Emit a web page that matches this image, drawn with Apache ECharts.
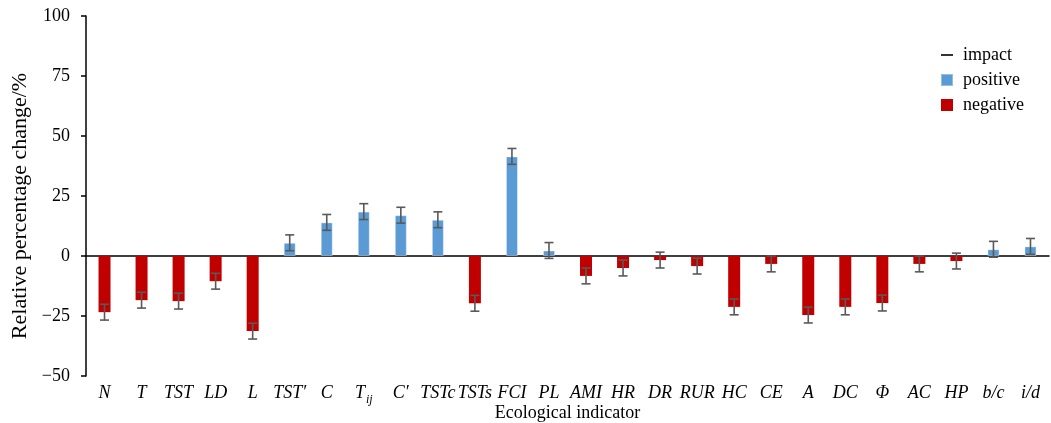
<!DOCTYPE html>
<html>
<head>
<meta charset="utf-8">
<script src="https://cdn.jsdelivr.net/npm/echarts@6/dist/echarts.min.js"></script>
<style>html,body{margin:0;padding:0;background:#fff;}#c{width:1051px;height:423px;}</style>
</head>
<body>
<div id="c"></div>
<script>
const categories = ['N','T','TST','LD','L','TST\u2032','C','Tij','C\u2032','TSTc','TSTs','FCI','PL','AMI','HR','DR','RUR','HC','CE','A','DC','\u03A6','AC','HP','b/c','i/d'];
const values = [-23.4,-18.4,-18.8,-10.5,-31.3,5.5,14.0,18.5,17.0,15.1,-19.7,41.5,2.3,-8.3,-5.0,-1.7,-4.2,-21.2,-3.3,-24.6,-21.2,-19.6,-3.3,-2.1,2.8,4.0];
const errors = [3.3,3.3,3.3,3.3,3.3,3.3,3.3,3.3,3.3,3.3,3.3,3.3,3.3,3.3,3.3,3.3,3.3,3.3,3.3,3.3,3.3,3.3,3.3,3.3,3.3,3.3];
const yTicks = {min:-50, max:100, interval:25};

const FONT = "'Liberation Serif','Times New Roman',serif";
const positive = values.map(v => v > 0 ? v : '-');
const negative = values.map(v => v < 0 ? v : '-');
const errData = values.map((v, i) => [i, v, errors[i]]);

const chart = echarts.init(document.getElementById('c'));
chart.setOption({
  animation: false,
  textStyle: {fontFamily: FONT, color: '#000'},
  grid: {left: 86, right: 2, top: 16, bottom: 47, containLabel: false, outerBoundsMode: 'none'},
  legend: {
    orient: 'vertical', left: 935, top: 41, itemWidth: 12, itemHeight: 12, itemGap: 7,
    textStyle: {fontFamily: FONT, fontSize: 18, color: '#000', padding: [0,0,0,5]},
    data: [
      {name: 'impact', icon: 'path://M0,0H12V1.6H0Z'},
      {name: 'positive', icon: 'rect'},
      {name: 'negative', icon: 'rect'}
    ]
  },
  xAxis: {
    type: 'category', data: categories,
    name: 'Ecological indicator', nameLocation: 'middle', nameGap: 28, nameMoveOverlap: false,
    nameTextStyle: {fontFamily: FONT, fontSize: 18, color: '#000'},
    axisLine: {onZero: true, lineStyle: {color: '#000', width: 1.5}},
    axisTick: {alignWithLabel: true, inside: true, length: 4, lineStyle: {color: '#000', width: 1.5}},
    axisLabel: {
      interval: 0, margin: 8, color: '#000', fontFamily: FONT, fontSize: 18, fontStyle: 'italic',
      formatter: v => v === 'Tij' ? '{bt|T}{s|ij}' : '{b|' + v + '}',
      rich: {
        b: {fontFamily: FONT, fontSize: 18, fontStyle: 'italic', color: '#000'},
        bt: {fontFamily: FONT, fontSize: 18, fontStyle: 'italic', color: '#000', padding: [0,0,4,0]},
        s: {fontFamily: FONT, fontSize: 12, fontStyle: 'italic', color: '#000', padding: [10,0,0,1]}
      }
    },
    splitLine: {show: false}
  },
  yAxis: {
    type: 'value', min: yTicks.min, max: yTicks.max, interval: yTicks.interval,
    name: 'Relative percentage change/%', nameLocation: 'middle', nameGap: 49,
    nameTextStyle: {fontFamily: FONT, fontSize: 22, color: '#000', padding: [0,20,0,0]},
    axisLine: {show: true, lineStyle: {color: '#000', width: 1.5}},
    axisTick: {show: true, inside: false, length: 5, lineStyle: {color: '#000', width: 1.5}},
    axisLabel: {margin: 16, color: '#000', fontFamily: FONT, fontSize: 18,
      formatter: v => v < 0 ? '\u2212' + Math.abs(v) : String(v)},
    splitLine: {show: false}
  },
  series: [
    {name: 'positive', type: 'bar', stack: 'a', data: positive, barWidth: 12,
      itemStyle: {color: '#5B9BD5', borderColor: 'rgba(255,255,255,0.35)', borderWidth: 1}},
    {name: 'negative', type: 'bar', stack: 'a', data: negative, barWidth: 12,
      itemStyle: {color: '#C00000'}},
    {name: 'impact', type: 'custom', data: errData, z: 10,
      itemStyle: {color: '#000'},
      encode: {x: 0, y: 1},
      renderItem: function (params, api) {
        const x = api.value(0), v = api.value(1), e = api.value(2);
        const top = api.coord([x, v + e]);
        const bot = api.coord([x, v - e]);
        const hw = 4.5;
        const st = {stroke: '#595959', lineWidth: 1.6};
        return {type: 'group', children: [
          {type: 'line', shape: {x1: top[0], y1: top[1], x2: bot[0], y2: bot[1]}, style: st},
          {type: 'line', shape: {x1: top[0]-hw, y1: top[1], x2: top[0]+hw, y2: top[1]}, style: st},
          {type: 'line', shape: {x1: bot[0]-hw, y1: bot[1], x2: bot[0]+hw, y2: bot[1]}, style: st}
        ]};
      }
    }
  ]
});
</script>
</body>
</html>
